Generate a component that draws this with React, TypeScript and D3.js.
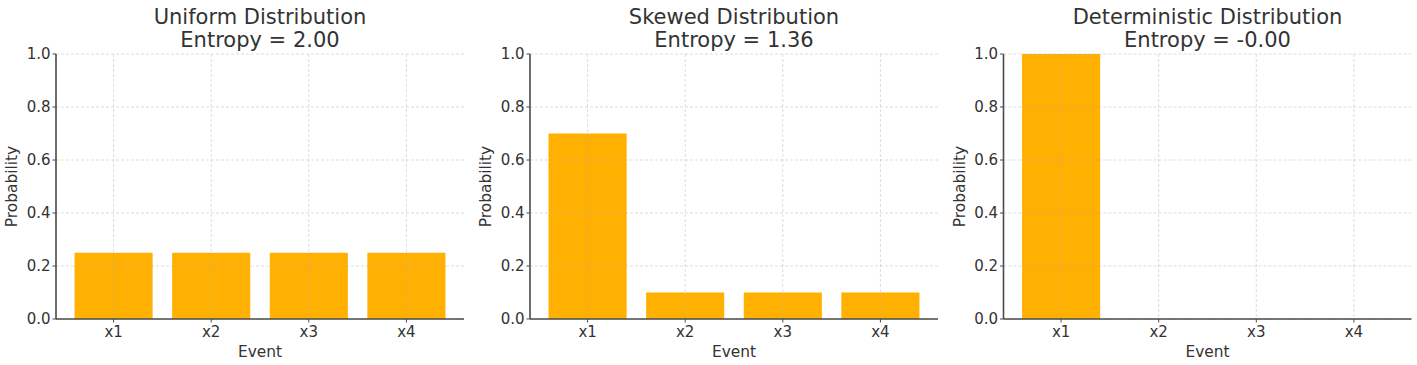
import React from "react";
import * as d3 from "d3";

const events = ["x1", "x2", "x3", "x4"];
const uniformValues = [0.25, 0.25, 0.25, 0.25];
const skewedValues = [0.7, 0.1, 0.1, 0.1];
const deterministicValues = [1.0, 0, 0, 0];
const titles = ["Uniform Distribution", "Skewed Distribution", "Deterministic Distribution"];
const entropyLabels = ["Entropy = 2.00", "Entropy = 1.36", "Entropy = -0.00"];
const yTicks = [0, 0.2, 0.4, 0.6, 0.8, 1.0];

const panels = [
  { values: uniformValues, left: 56 },
  { values: skewedValues, left: 530 },
  { values: deterministicValues, left: 1003.5 },
];

const W = 1417, H = 365;
const pw = 408;
const top = 54, bottom = 319;
const font = "DejaVu Sans, sans-serif";
const textColor = "#333";

function Panel({ values, left, title, entropy }: any) {
  const x = d3.scaleLinear().domain([-0.59, 3.59]).range([left, left + pw]);
  const y = d3.scaleLinear().domain([0, 1]).range([bottom, top]);
  const bw = x(0.4) - x(-0.4);
  const cx = left + pw / 2;
  return (
    <g>
      {values.map((v: number, i: number) => (
        <rect key={i} x={x(i) - bw / 2} y={y(v)} width={bw} height={y(0) - y(v)} fill="#FFB000" />
      ))}
      {yTicks.map((t) => (
        <line key={"gy" + t} x1={left} x2={left + pw} y1={y(t)} y2={y(t)} stroke="#b0b0b0" strokeOpacity={0.55} strokeWidth={0.8} strokeDasharray="3,2" />
      ))}
      {events.map((e, i) => (
        <line key={"gx" + e} x1={x(i)} x2={x(i)} y1={top} y2={bottom} stroke="#b0b0b0" strokeOpacity={0.55} strokeWidth={0.8} strokeDasharray="3,2" />
      ))}
      <line x1={left} x2={left} y1={top} y2={bottom} stroke="#4a4a4a" strokeWidth={1.6} />
      <line x1={left} x2={left + pw} y1={bottom} y2={bottom} stroke="#4a4a4a" strokeWidth={1.6} />
      {yTicks.map((t) => (
        <g key={"ty" + t}>
          <line x1={left - 3.5} x2={left} y1={y(t)} y2={y(t)} stroke="#4a4a4a" strokeWidth={1} />
          <text x={left - 5.5} y={y(t)} dy="0.36em" textAnchor="end" fontSize={15} fill={textColor} fontFamily={font}>
            {d3.format(".1f")(t)}
          </text>
        </g>
      ))}
      {events.map((e, i) => (
        <g key={"tx" + e}>
          <line x1={x(i)} x2={x(i)} y1={bottom} y2={bottom + 3.5} stroke="#4a4a4a" strokeWidth={1} />
          <text x={x(i)} y={336.5} textAnchor="middle" fontSize={15} fill={textColor} fontFamily={font}>{e}</text>
        </g>
      ))}
      <text x={cx} y={357} textAnchor="middle" fontSize={15.4} fill={textColor} fontFamily={font}>Event</text>
      <text transform={`translate(${left - 39},${(top + bottom) / 2}) rotate(-90)`} textAnchor="middle" fontSize={15.4} fill={textColor} fontFamily={font}>Probability</text>
      <text x={cx} y={23.5} textAnchor="middle" fontSize={21} fill={textColor} fontFamily={font}>{title}</text>
      <text x={cx} y={46.7} textAnchor="middle" fontSize={21} fill={textColor} fontFamily={font}>{entropy}</text>
    </g>
  );
}

export default function App() {
  return (
    <svg width={W} height={H} style={{ position: "absolute", left: 0, top: 0, background: "#fff" }}>
      {panels.map((p, i) => (
        <Panel key={i} values={p.values} left={p.left} title={titles[i]} entropy={entropyLabels[i]} />
      ))}
    </svg>
  );
}
